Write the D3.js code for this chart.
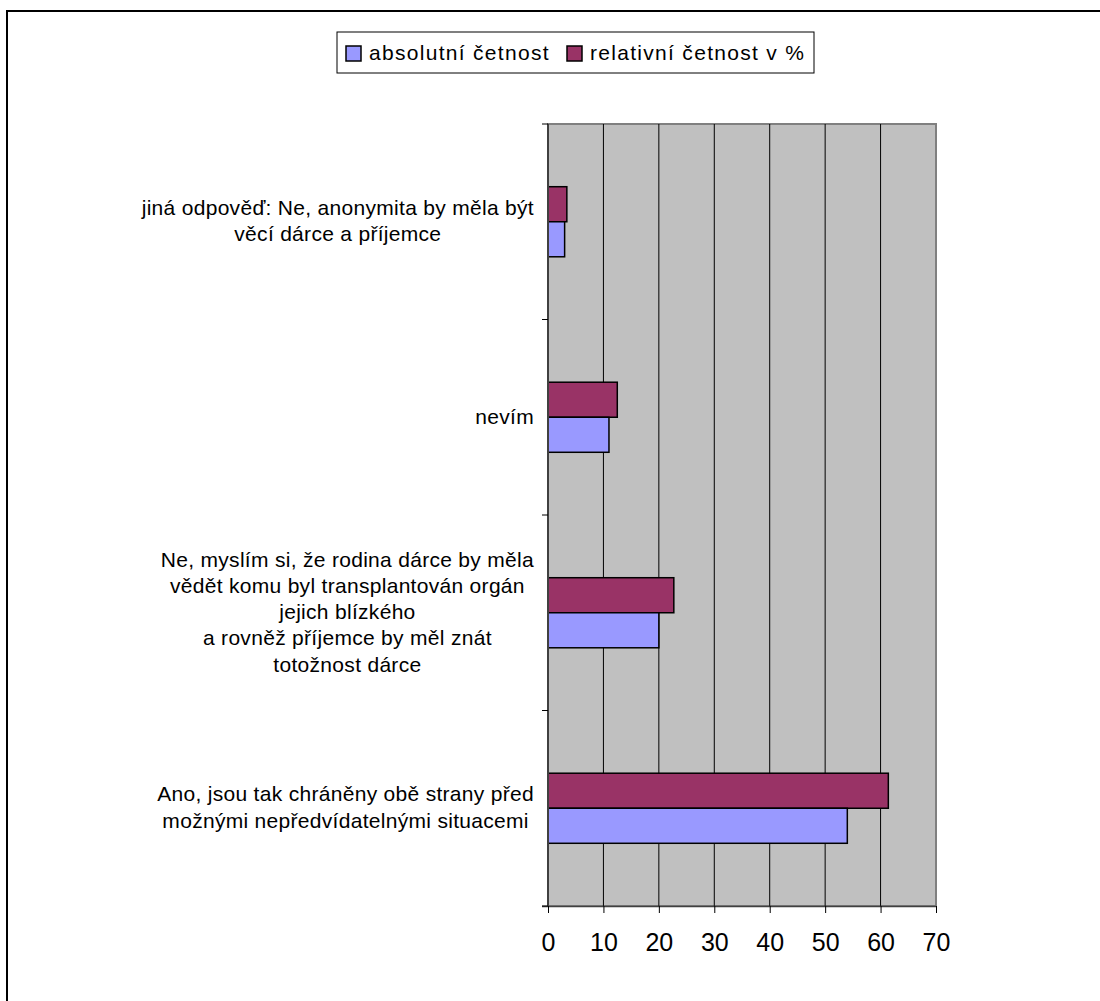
<!DOCTYPE html>
<html>
<head>
<meta charset="utf-8">
<script src="https://cdn.jsdelivr.net/npm/d3@7"></script>
<style>
  html, body { margin: 0; padding: 0; background: #ffffff; }
  svg { display: block; font-family: "Liberation Sans", Arial, sans-serif; }
</style>
</head>
<body>
<svg id="chart" width="1100" height="1001"></svg>
<script>
// Survey answers (top to bottom), each label split into its display lines
const categories = [
  "jiná odpověď",
  "nevím",
  "Ne, rodina dárce by měla vědět",
  "Ano, jsou tak chráněny obě strany"
];
const categoryLines = [
  ["jiná odpověď: Ne, anonymita by měla být", "věcí dárce a příjemce"],
  ["nevím"],
  ["Ne, myslím si, že rodina dárce by měla", "vědět komu byl transplantován orgán", "jejich blízkého", "a rovněž příjemce by měl znát", "totožnost dárce"],
  ["Ano, jsou tak chráněny obě strany před", "možnými nepředvídatelnými situacemi"]
];
const absoluteCounts = [3, 11, 20, 54];
const relativePercents = [3.4, 12.5, 22.7, 61.4];
const seriesNames = ["absolutní četnost", "relativní četnost v %"];
const xTicks = [0, 10, 20, 30, 40, 50, 60, 70];

const svg = d3.select("#chart");

// outer chart frame
svg.append("rect")
  .attr("x", 7).attr("y", 11).attr("width", 1300).attr("height", 1300)
  .attr("fill", "none").attr("stroke", "#000").attr("stroke-width", 2);

const plot = { left: 548, right: 936, top: 124, bottom: 906 };

const x = d3.scaleLinear().domain([0, 70]).range([plot.left, plot.right]);
const y = d3.scaleBand().domain(categories).range([plot.top, plot.bottom]).padding(0);
const sub = d3.scaleBand().domain(["rel", "abs"]).range([0, y.bandwidth()])
  .paddingInner(0).paddingOuter(1.79);

// plot background
svg.append("rect")
  .attr("x", plot.left).attr("y", plot.top)
  .attr("width", plot.right - plot.left).attr("height", plot.bottom - plot.top)
  .attr("fill", "#C0C0C0").attr("stroke", "#808080").attr("stroke-width", 2);

// vertical gridlines
svg.append("g").selectAll("line")
  .data(xTicks.slice(1, -1))
  .join("line")
  .attr("x1", d => x(d)).attr("x2", d => x(d))
  .attr("y1", plot.top).attr("y2", plot.bottom)
  .attr("stroke", "#000").attr("stroke-width", 1);

// bars
const rows = categories.map((c, i) => ({ c, abs: absoluteCounts[i], rel: relativePercents[i] }));
const g = svg.append("g");
g.selectAll("rect.rel").data(rows).join("rect")
  .attr("class", "rel")
  .attr("x", x(0)).attr("y", d => y(d.c) + sub("rel"))
  .attr("width", d => x(d.rel) - x(0)).attr("height", sub.bandwidth())
  .attr("fill", "#993366").attr("stroke", "#000").attr("stroke-width", 1.5);
g.selectAll("rect.abs").data(rows).join("rect")
  .attr("class", "abs")
  .attr("x", x(0)).attr("y", d => y(d.c) + sub("abs"))
  .attr("width", d => x(d.abs) - x(0)).attr("height", sub.bandwidth())
  .attr("fill", "#9999FF").attr("stroke", "#000").attr("stroke-width", 1.5);

// x axis
const xAxis = svg.append("g")
  .attr("transform", `translate(0,${plot.bottom})`)
  .call(d3.axisBottom(x).tickValues(xTicks).tickSize(7).tickPadding(20).tickSizeOuter(0));
xAxis.select(".domain").attr("stroke", "#404040").attr("stroke-width", 1.5)
  .attr("d", `M${plot.left - 6},0.5H${plot.right}`);
xAxis.selectAll(".tick line").attr("stroke", "#000");
xAxis.selectAll(".tick text")
  .attr("font-size", 25).attr("fill", "#000")
  .attr("font-family", "Liberation Sans, Arial, sans-serif");

// y axis line with boundary ticks between categories
const yBounds = categories.map(c => y(c)).concat([plot.bottom]);
svg.append("line")
  .attr("x1", plot.left).attr("x2", plot.left)
  .attr("y1", plot.top).attr("y2", plot.bottom)
  .attr("stroke", "#404040").attr("stroke-width", 2);
svg.append("g").selectAll("line").data(yBounds).join("line")
  .attr("x1", plot.left - 6).attr("x2", plot.left)
  .attr("y1", d => d).attr("y2", d => d)
  .attr("stroke", "#000").attr("stroke-width", 1);

// category labels: lines centred within a right-aligned block
const labelRight = 534;
const lineH = 26.3;
const labels = svg.append("g").attr("font-size", 21).attr("letter-spacing", 0.3).attr("fill", "#000");
categories.forEach((c, i) => {
  const lines = categoryLines[i];
  const grp = labels.append("g");
  const texts = grp.selectAll("text").data(lines).join("text")
    .attr("text-anchor", "middle")
    .attr("dy", "0.35em")
    .attr("y", (d, k) => y(c) + y.bandwidth() / 2 + (k - (lines.length - 1) / 2) * lineH - 1)
    .text(d => d);
  let maxW = 0;
  texts.each(function () { maxW = Math.max(maxW, this.getComputedTextLength()); });
  texts.attr("x", labelRight - maxW / 2);
});

// legend
const legend = svg.append("g");
legend.append("rect")
  .attr("x", 337).attr("y", 32).attr("width", 477).attr("height", 41)
  .attr("fill", "#fff").attr("stroke", "#000").attr("stroke-width", 1);
const legendColors = ["#9999FF", "#993366"];
const legendX = [346, 567];
seriesNames.forEach((n, i) => {
  legend.append("rect")
    .attr("x", legendX[i]).attr("y", 46).attr("width", 15).attr("height", 15)
    .attr("fill", legendColors[i]).attr("stroke", "#000").attr("stroke-width", 1.5);
  legend.append("text")
    .attr("x", legendX[i] + 23).attr("y", 53).attr("dy", "0.35em")
    .attr("font-size", 21).attr("letter-spacing", 1.3).attr("fill", "#000")
    .text(n);
});
</script>
</body>
</html>
